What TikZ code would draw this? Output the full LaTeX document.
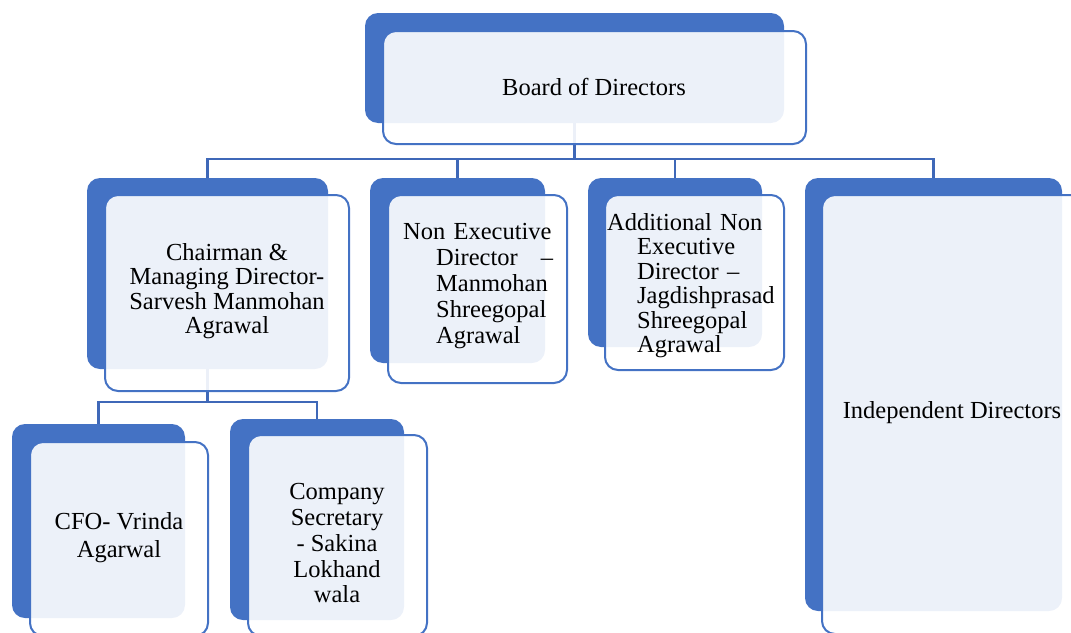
\documentclass[tikz,border=0pt]{standalone}
\usepackage{fontspec}
\setmainfont{Liberation Serif}
\usetikzlibrary{backgrounds}
\definecolor{boxblue}{RGB}{68,114,196}
\definecolor{linkblue}{RGB}{63,104,184}

\begin{document}
\begin{tikzpicture}[
    x=1pt, y=-1pt,
    shadowbox/.style={fill=boxblue, rounded corners=13pt, inner sep=0pt},
    facebox/.style={draw=boxblue, line width=2pt, fill=white, fill opacity=0.9, rounded corners=13pt, inner sep=0pt},
    txt/.style={font=\fontsize{24.5}{24.5}\selectfont, inner sep=0pt, align=center},
    link/.style={draw=linkblue, line width=2.4pt},
]
    \useasboundingbox (0,0) rectangle (1071,632);

    % Board
    \node[shadowbox, minimum width=419pt, minimum height=110pt] (board-b) at (574.5,68) {};
    \node[facebox, minimum width=423pt, minimum height=113pt] (board) at (594.5,87.5) {};
    \node[txt, anchor=base] (board-t) at (594,95) {Board of Directors};

    % Directors
    \node[shadowbox, minimum width=241pt, minimum height=191pt] (cmd-b) at (207.5,273.5) {};
    \node[facebox, minimum width=244pt, minimum height=196pt] (cmd) at (227,293) {};
    \node[txt] (cmd-t) at (227,291) {Chairman \&\\Managing Director-\\Sarvesh Manmohan\\Agrawal};

    \node[shadowbox, minimum width=175pt, minimum height=185pt] (ned-b) at (457.5,270.5) {};
    \node[facebox, minimum width=179pt, minimum height=188pt] (ned) at (477.5,289) {};
    \node[txt, font=\fontsize{24.5}{26}\selectfont, align=left, text width=117pt, anchor=base west] (ned-t) at (436,239)
        {\hspace*{-33pt}Non Executive\\Director\hfill–\\Manmohan\\Shreegopal\\Agrawal};

    \node[shadowbox, minimum width=174pt, minimum height=169pt] (aned-b) at (675,262.5) {};
    \node[facebox, minimum width=179pt, minimum height=175pt] (aned) at (694.5,282.5) {};
    \node[txt, align=left, text width=140pt, anchor=base west] (aned-t) at (637,230)
        {\hspace*{-30pt}Additional Non\\Executive\\Director –\\Jagdishprasad\\Shreegopal\\Agrawal};

    \node[shadowbox, minimum width=257pt, minimum height=433pt] (ind-b) at (933.5,394.5) {};
    \node[facebox, minimum width=266pt, minimum height=439pt] (ind) at (955,414.5) {};
    \node[txt, anchor=base] (ind-t) at (952,418.5) {Independent Directors};

    % Officers
    \node[shadowbox, minimum width=173pt, minimum height=194pt] (cfo-b) at (98.5,521) {};
    \node[facebox, minimum width=178pt, minimum height=194pt] (cfo) at (119,539) {};
    \node[txt, font=\fontsize{24.5}{28}\selectfont] (cfo-t) at (119,537.5) {CFO- Vrinda\\Agarwal};

    \node[shadowbox, minimum width=174pt, minimum height=201pt] (cs-b) at (317,519.5) {};
    \node[facebox, minimum width=179pt, minimum height=201pt] (cs) at (337.5,535.5) {};
    \node[txt, font=\fontsize{24.5}{25.8}\selectfont] (cs-t) at (337,543.4) {Company\\Secretary\\- Sakina\\Lokhand\\wala};

    % Connectors
    \coordinate (bus) at (0,159);
    \coordinate (bus2) at (0,402);
    \begin{scope}[on background layer]
        \draw[link] (board-b.center) -- (board-b.center |- bus);
        \draw[link] (cmd-b.north) -- (cmd-b.north |- bus) -- (ind-b.north |- bus) -- (ind-b.north);
        \draw[link] (ned-b.north) -- (ned-b.north |- bus);
        \draw[link] (aned-b.north) -- (aned-b.north |- bus);
        \draw[link] (cmd-b.center) -- (cmd-b.center |- bus2);
        \draw[link] (cfo-b.north) -- (cfo-b.north |- bus2) -- (cs-b.north |- bus2) -- (cs-b.north);
    \end{scope}
\end{tikzpicture}
\end{document}
